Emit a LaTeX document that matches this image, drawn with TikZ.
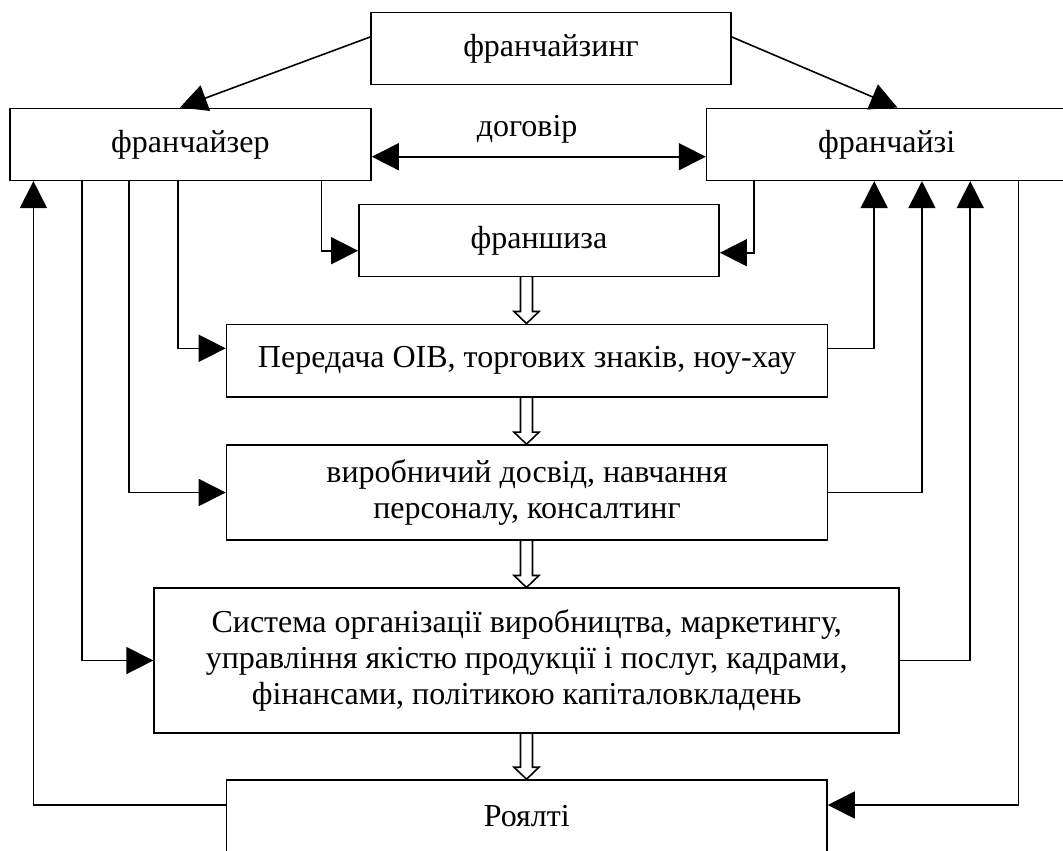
\documentclass[tikz,border=0pt]{standalone}
\usepackage{fontspec}
\setmainfont{Liberation Serif}
\usetikzlibrary{arrows.meta,calc}

\tikzset{
  box/.style={draw, line width=0.45pt, inner sep=0pt, align=center,
    font=\fontsize{9.1pt}{10.3pt}\selectfont},
  lbl/.style={inner sep=0pt, font=\fontsize{9.1pt}{10.3pt}\selectfont},
  arr/.style={line width=0.45pt, -{Triangle[length=2.7mm,width=2.7mm]}},
  darr/.style={line width=0.45pt,
    {Triangle[length=2.7mm,width=2.7mm]}-{Triangle[length=2.7mm,width=2.7mm]}},
  hollow/.style={line width=0.45pt}
}

\begin{document}
\begin{tikzpicture}[x=0.01cm,y=-0.01cm]
\useasboundingbox (0,0) rectangle (1063,850);

\node[box, minimum width=3.6cm, minimum height=0.72cm] (fing) at (551,48.3) {франчайзинг};
\node[box, minimum width=3.61cm, minimum height=0.72cm] (fzer) at (190.4,144.3) {франчайзер};
\node[box, minimum width=3.6cm, minimum height=0.72cm] (fzi) at (886.7,144.3) {франчайзі};
\node[box, minimum width=3.6cm, minimum height=0.72cm] (fsh) at (539,240.3) {франшиза};
\node[box, minimum width=6.006cm, minimum height=0.724cm] (per) at (527,360.5)
  {Передача ОІВ, торгових знаків, ноу-хау};
\node[box, minimum width=6.006cm, minimum height=0.95cm] (vyr) at (527,492.5)
  {виробничий досвід, навчання\\персоналу, консалтинг};
\node[box, minimum width=7.447cm, minimum height=1.444cm] (sys) at (526.7,660.5)
  {Система організації виробництва, маркетингу,\\управління якістю продукції і послуг, кадрами,\\фінансами, політикою капіталовкладень};
\node[box, minimum width=6.0cm, minimum height=0.72cm] (roy) at (526.8,816) {Роялті};

\coordinate (ax) at (526.5,0);

\draw[arr] ([yshift=0.113cm]fing.west) -- ([xshift=-0.104cm]fzer.north);
\draw[arr] ([yshift=0.113cm]fing.east) -- ([xshift=0.107cm]fzi.north);
\draw[darr] ([yshift=-0.124cm]fzer.east) --
  node[lbl, above=0.13cm, xshift=-0.117cm] {договір} ([yshift=-0.124cm]fzi.west);

\draw[arr] ([xshift=-0.503cm]fzer.south east) |- ([yshift=-0.104cm]fsh.west);
\draw[arr] ([xshift=0.483cm]fzi.south west) |- ([yshift=-0.124cm]fsh.east);

\draw[arr] ([xshift=1.69cm]fzer.south west) |- ([yshift=0.122cm]per.west);
\draw[arr] ([xshift=1.2cm]fzer.south west) |- (vyr.west);
\draw[arr] ([xshift=0.728cm]fzer.south west) |- (sys.west);
\draw[arr] ([yshift=0.11cm]roy.west) -| ([xshift=0.244cm]fzer.south west);

\draw[arr] ([yshift=0.122cm]per.east) -| ([xshift=1.683cm]fzi.south west);
\draw[arr] (vyr.east) -| ([xshift=2.16cm]fzi.south west);
\draw[arr] (sys.east) -| ([xshift=2.643cm]fzi.south west);
\draw[arr] ([xshift=3.123cm]fzi.south west) |- ([yshift=0.11cm]roy.east);

\foreach \a/\b in {fsh/per,per/vyr,vyr/sys,sys/roy}
  \draw[hollow] ($(\a.south -| ax)+(-6,0)$) -- ($(\b.north -| ax)+(-6,-12)$) -- ++(-6.5,0)
    -- (\b.north -| ax) -- ++(12.5,-12) -- ++(-6.5,0) -- ($(\a.south -| ax)+(6,0)$);
\end{tikzpicture}
\end{document}
